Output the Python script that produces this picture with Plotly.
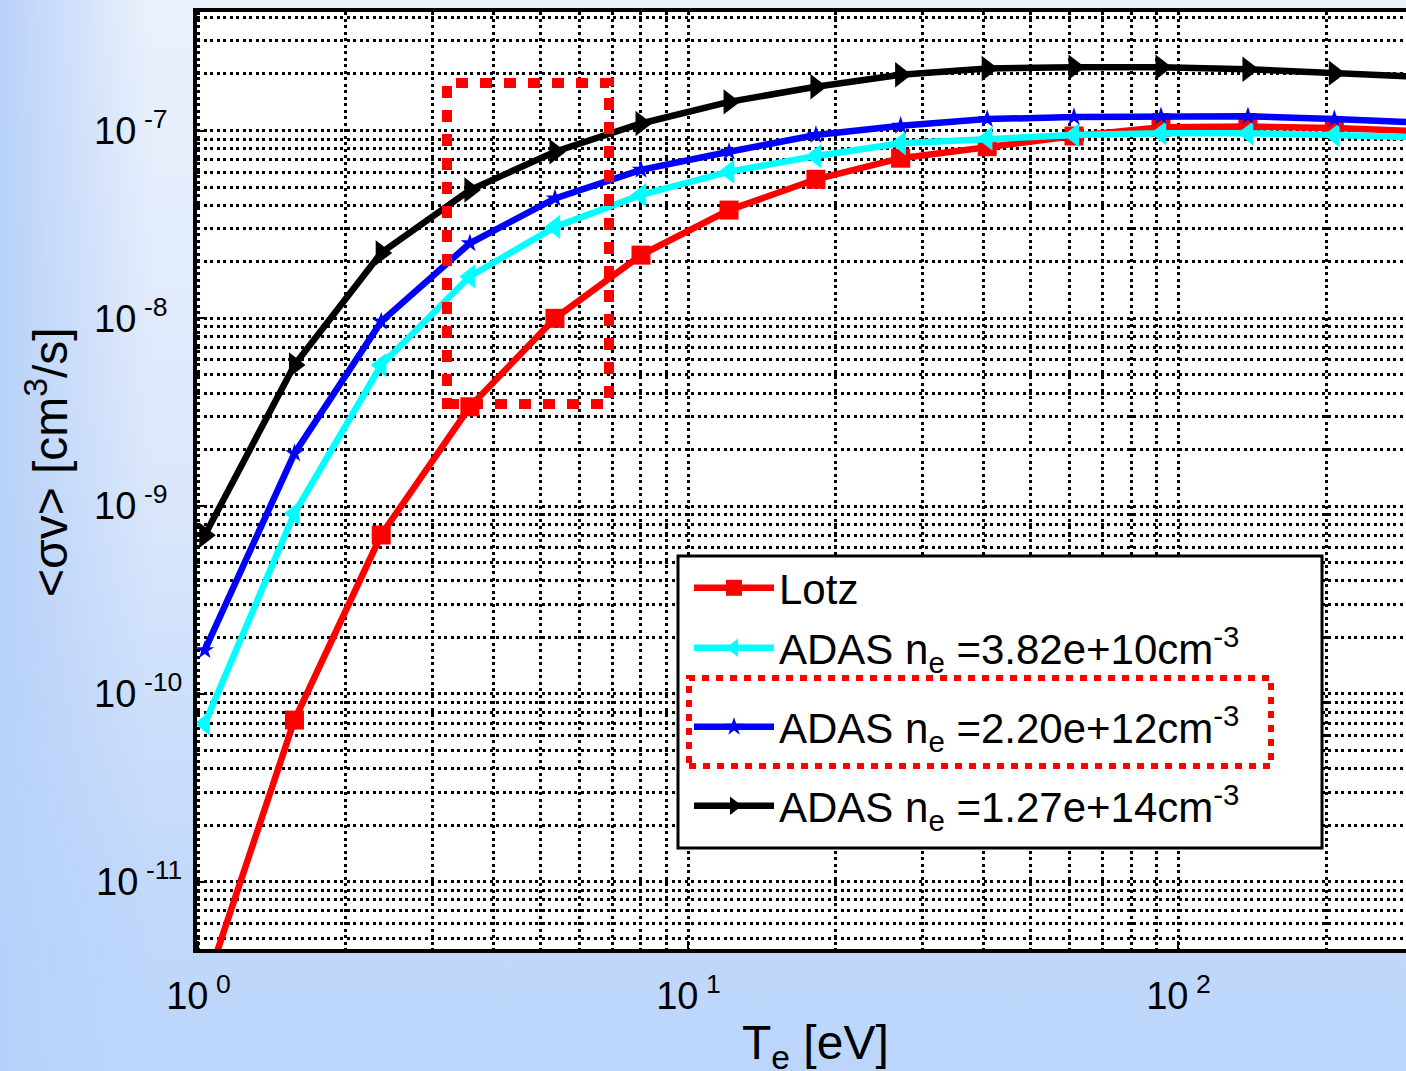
import base64
import plotly.graph_objects as go

# ---------------- data ----------------
te = [1.03, 1.57, 2.36, 3.58, 5.34, 8.0, 12.1, 18.2, 27.1, 40.7, 61.2, 92.1, 138.6, 208, 314]
lotz = [2.7e-12, 7.26e-11, 7.02e-10, 3.38e-9, 1.0e-8, 2.17e-8, 3.77e-8, 5.50e-8, 7.12e-8,
        8.20e-8, 9.35e-8, 1.04e-7, 1.05e-7, 1.03e-7, 9.9e-8]
adas_low = [6.96e-11, 9.16e-10, 5.64e-9, 1.67e-8, 3.07e-8, 4.54e-8, 6.04e-8, 7.31e-8, 8.55e-8,
            9.08e-8, 9.46e-8, 9.66e-8, 9.66e-8, 9.46e-8, 9.2e-8]
adas_mid = [1.71e-10, 1.91e-9, 9.6e-9, 2.51e-8, 4.35e-8, 6.17e-8, 7.71e-8, 9.46e-8, 1.06e-7,
            1.15e-7, 1.18e-7, 1.19e-7, 1.19e-7, 1.15e-7, 1.10e-7]
adas_high = [7.0e-10, 5.64e-9, 2.23e-8, 4.82e-8, 7.71e-8, 1.09e-7, 1.42e-7, 1.71e-7, 1.98e-7,
             2.14e-7, 2.17e-7, 2.17e-7, 2.12e-7, 2.02e-7, 1.93e-7]

series_names = ["Lotz",
                "ADAS n<sub>e</sub> =3.82e+10cm<sup>-3</sup>",
                "ADAS n<sub>e</sub> =2.20e+12cm<sup>-3</sup>",
                "ADAS n<sub>e</sub> =1.27e+14cm<sup>-3</sup>"]

x_tick_vals = [1, 10, 100]
x_tick_text = ["10\u2009<sup>0</sup>", "10\u2009<sup>1</sup>", "10\u2009<sup>2</sup>"]
y_tick_vals = [1e-11, 1e-10, 1e-9, 1e-8, 1e-7]
y_tick_text = ["10\u2009<sup>-11</sup>", "10\u2009<sup>-10</sup>", "10\u2009<sup>-9\u2007</sup>",
               "10\u2009<sup>-8\u2007</sup>", "10\u2009<sup>-7\u2007</sup>"]

# ---------------- layout geometry ----------------
W, H = 1406, 1071
ML, MR, MT, MB = 197, 0, 12, 122
PW, PH = W - ML - MR, H - MT - MB

FONT = "Liberation Sans, Arial, sans-serif"


def px_x(p):
    return (p - ML) / PW


def px_y(p):
    return (H - MB - p) / PH


# background gradient (figure decoration)
svg = f'''<svg xmlns="http://www.w3.org/2000/svg" width="{W}" height="{H}" viewBox="0 0 {W} {H}" preserveAspectRatio="none">
<defs>
<linearGradient id="v" x1="0" y1="0" x2="0" y2="1">
<stop offset="0" stop-color="#ebf1fc"/>
<stop offset="0.45" stop-color="#dbe7fb"/>
<stop offset="0.85" stop-color="#c0d8fb"/>
<stop offset="1" stop-color="#bcd6fb"/>
</linearGradient>
<linearGradient id="h" x1="0" y1="0" x2="1" y2="0">
<stop offset="0" stop-color="#b6d0f9" stop-opacity="0.95"/>
<stop offset="1" stop-color="#b6d0f9" stop-opacity="0"/>
</linearGradient>
</defs>
<rect x="0" y="0" width="{W}" height="{H}" fill="url(#v)"/>
<rect x="0" y="0" width="150" height="{H}" fill="url(#h)"/>
<rect x="{ML}" y="{MT}" width="{PW}" height="{PH}" fill="#ffffff"/>
</svg>'''
bg_src = "data:image/svg+xml;base64," + base64.b64encode(svg.encode()).decode()

fig = go.Figure()

styles = [
    dict(color="#ff0000", symbol="square", size=19, data=lotz),
    dict(color="#00ffff", symbol="triangle-left", size=21, data=adas_low),
    dict(color="#0000ff", symbol="star", size=14, data=adas_mid),
    dict(color="#000000", symbol="triangle-right", size=22, data=adas_high),
]
legend_ids = ["legend", "legend2", "legend3", "legend4"]
legend_rows = [588, 648, 727, 806]

for name, st, lid in zip(series_names, styles, legend_ids):
    fig.add_trace(go.Scatter(
        x=te, y=st["data"], name=name, mode="lines+markers",
        line=dict(color=st["color"], width=6.5),
        marker=dict(symbol=st["symbol"], size=st["size"], color=st["color"],
                    line=dict(width=0)),
        legend=lid,
    ))

minor_x = [v * d for d in (1, 10, 100) for v in range(2, 10)]
minor_y = [v * 10.0 ** e for e in range(-12, -6) for v in range(2, 10)]

GRID = dict(gridcolor="black", gridwidth=2.5, griddash="3px,3.5px")

fig.update_xaxes(
    type="log", range=[-0.003, 2.4643],
    tickmode="array", tickvals=x_tick_vals, ticktext=x_tick_text,
    showgrid=True, **GRID,
    minor=dict(tickmode="array", tickvals=minor_x, showgrid=True, ticks="", **GRID),
    showline=True, linecolor="black", linewidth=4, mirror=True,
    ticks="inside", ticklen=8, tickwidth=2, tickcolor="black",
    tickfont=dict(family=FONT, size=38, color="black"),
    ticklabelstandoff=10,
    zeroline=False,
)
fig.update_yaxes(
    type="log", range=[-11.358, -6.369],
    tickmode="array", tickvals=y_tick_vals, ticktext=y_tick_text,
    showgrid=True, **GRID,
    minor=dict(tickmode="array", tickvals=minor_y, showgrid=True, ticks="", **GRID),
    showline=True, linecolor="black", linewidth=4, mirror=False,
    ticks="inside", ticklen=8, tickwidth=2, tickcolor="black",
    tickfont=dict(family=FONT, size=38, color="black"),
    ticklabelstandoff=3,
    zeroline=False,
)

legend_layout = {}
for lid, row in zip(legend_ids, legend_rows):
    legend_layout[lid] = dict(
        x=px_x(689), y=px_y(row), xanchor="left", yanchor="middle",
        bgcolor="rgba(0,0,0,0)", borderwidth=0,
        font=dict(family=FONT, size=42, color="black"),
        itemwidth=80, itemsizing="trace",
    )

fig.update_layout(
    width=W, height=H,
    margin=dict(l=ML, r=MR, t=MT, b=MB, pad=0),
    paper_bgcolor="#c8dcfa",
    plot_bgcolor="white",
    font=dict(family=FONT, color="black"),
    showlegend=True,
    images=[dict(source=bg_src, xref="paper", yref="paper",
                 x=-ML / PW, y=1 + MT / PH, sizex=W / PW, sizey=H / PH,
                 xanchor="left", yanchor="top", sizing="stretch", layer="below")],
    shapes=[
        # legend frame
        dict(type="rect", xref="paper", yref="paper",
             x0=px_x(678), x1=px_x(1322), y0=px_y(848), y1=px_y(556),
             line=dict(color="black", width=3), fillcolor="white", layer="above"),
        # highlight box in plot
        dict(type="rect", xref="paper", yref="paper",
             x0=px_x(447), x1=px_x(609), y0=px_y(404), y1=px_y(83),
             line=dict(color="#ff0000", width=10, dash="12px,12px"),
             fillcolor="rgba(0,0,0,0)", layer="above"),
        # highlight box in legend
        dict(type="rect", xref="paper", yref="paper",
             x0=px_x(689), x1=px_x(1271), y0=px_y(766), y1=px_y(678),
             line=dict(color="#ff0000", width=6, dash="7px,7px"),
             fillcolor="rgba(0,0,0,0)", layer="above"),
    ],
    annotations=[
        dict(text="T<sub>e</sub> [eV]", xref="paper", yref="paper",
             x=px_x(816), y=px_y(1046), xanchor="center", yanchor="middle",
             showarrow=False, font=dict(family=FONT, size=48, color="black")),
        dict(text="&lt;σv&gt; [cm<sup>3</sup>/s]", xref="paper", yref="paper",
             x=px_x(47), y=px_y(462), xanchor="center", yanchor="middle",
             textangle=-90, showarrow=False,
             font=dict(family=FONT, size=48, color="black")),
    ],
    **legend_layout,
)

fig.write_html("out.html", config={"displayModeBar": False},
               post_script="document.body.style.margin='0';")
